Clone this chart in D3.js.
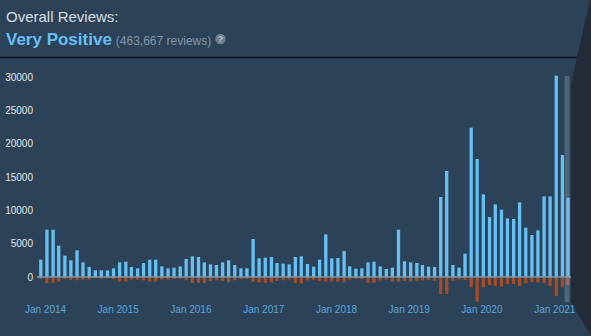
<!DOCTYPE html>
<html>
<head>
<meta charset="utf-8">
<script src="https://cdn.jsdelivr.net/npm/d3@7"></script>
<style>
  html, body { margin: 0; padding: 0; background: #2b4258; }
  svg { display: block; font-family: Arial, "Liberation Sans", sans-serif; }
</style>
</head>
<body>
<svg id="chart" width="591" height="336"></svg>
<script>
const months = [
  "2013-12",
  "2014-01","2014-02","2014-03","2014-04","2014-05","2014-06","2014-07","2014-08","2014-09","2014-10","2014-11","2014-12",
  "2015-01","2015-02","2015-03","2015-04","2015-05","2015-06","2015-07","2015-08","2015-09","2015-10","2015-11","2015-12",
  "2016-01","2016-02","2016-03","2016-04","2016-05","2016-06","2016-07","2016-08","2016-09","2016-10","2016-11","2016-12",
  "2017-01","2017-02","2017-03","2017-04","2017-05","2017-06","2017-07","2017-08","2017-09","2017-10","2017-11","2017-12",
  "2018-01","2018-02","2018-03","2018-04","2018-05","2018-06","2018-07","2018-08","2018-09","2018-10","2018-11","2018-12",
  "2019-01","2019-02","2019-03","2019-04","2019-05","2019-06","2019-07","2019-08","2019-09","2019-10","2019-11","2019-12",
  "2020-01","2020-02","2020-03","2020-04","2020-05","2020-06","2020-07","2020-08","2020-09","2020-10","2020-11","2020-12",
  "2021-01","2021-02","2021-03"
];
const positive = [
  2600,
  7100,7100,4700,3200,2500,4000,2200,1500,1000,1000,1000,1300,
  2200,2300,1500,1300,2100,2600,2600,1600,1300,1400,1600,2700,
  3100,3000,2200,1900,1800,2200,2500,1800,1300,1300,5700,2800,
  2900,3000,2100,2000,1900,3000,3100,1950,1550,2600,6400,2800,
  2850,3900,1600,1250,1300,2200,2300,1600,1200,1400,7100,2350,
  2200,2100,1800,1550,1500,12000,15900,1800,1400,3500,22400,17700,
  12400,9000,10900,10100,8800,8700,11200,7400,6300,7000,12100,12100,
  30200,18300,11900
];
const negative = [
  300,
  900,900,700,300,400,500,400,400,200,250,200,300,
  700,700,400,400,500,700,700,400,400,300,300,500,
  900,900,900,600,500,600,800,500,300,300,700,800,
  900,800,600,500,400,900,1000,500,400,600,700,700,
  700,800,400,300,300,900,900,500,400,700,700,600,
  700,600,550,450,550,2550,2550,550,350,450,1550,3700,
  1550,1200,1350,1450,1050,1050,1350,950,750,850,950,1350,
  2850,1550,1200
];
const yTicks = [0, 5000, 10000, 15000, 20000, 25000, 30000];
const xTickYears = [2014, 2015, 2016, 2017, 2018, 2019, 2020, 2021];

const parse = d3.timeParse("%Y-%m");
const data = months.map((m, i) => ({ date: parse(m), pos: positive[i], neg: negative[i] }));

const svg = d3.select("#chart");
const W = 591, H = 336;

svg.append("rect").attr("width", W).attr("height", H).attr("fill", "#2b4258");

// header
svg.append("text").attr("x", 6).attr("y", 21.5)
  .attr("font-size", 15).attr("fill", "#d6dde3").text("Overall Reviews:");
const sub = svg.append("text").attr("x", 6).attr("y", 44.5);
sub.append("tspan").attr("font-size", 17).attr("font-weight", "bold")
  .attr("fill", "#66c0f4").text("Very Positive");
sub.append("tspan").attr("font-size", 12).attr("fill", "#8197a8").attr("dx", 4)
  .text("(463,667 reviews)");
svg.append("circle").attr("cx", 220.5).attr("cy", 39).attr("r", 5.2).attr("fill", "#6e8191");
svg.append("text").attr("x", 220.5).attr("y", 42.3).attr("text-anchor", "middle")
  .attr("font-size", 9).attr("font-weight", "bold").attr("fill", "#b9c4cc").text("?");

svg.append("line").attr("x1", 0).attr("x2", 580).attr("y1", 57.5).attr("y2", 57.5)
  .attr("stroke", "#0c1218").attr("stroke-width", 1.3);

const x = d3.scaleTime()
  .domain([new Date(2014, 0, 1), new Date(2021, 0, 1)])
  .range([45, 554.3]);
const y = d3.scaleLinear().domain([0, 30000]).range([277, 77]);

const barW = 3.3, off = 0.3;

svg.append("g").selectAll("rect").data(data).join("rect")
  .attr("x", d => x(d.date) + off)
  .attr("width", barW)
  .attr("y", d => y(d.pos))
  .attr("height", d => y(0) - y(d.pos))
  .attr("fill", "#66c0f4");

svg.append("g").selectAll("rect").data(data).join("rect")
  .attr("x", d => x(d.date) + off)
  .attr("width", barW)
  .attr("y", y(0))
  .attr("height", d => y(0) - y(d.neg))
  .attr("fill", "#a34c25");

svg.append("line").attr("x1", 37).attr("x2", 572)
  .attr("y1", y(0)).attr("y2", y(0))
  .attr("stroke", "#7f93a4").attr("stroke-width", 1.6);

const yAxis = svg.append("g").attr("transform", "translate(33,0)")
  .call(d3.axisLeft(y).tickValues(yTicks).tickSize(0).tickPadding(0).tickFormat(d3.format("d")));
yAxis.select(".domain").remove();
yAxis.selectAll("text").attr("font-size", 10).attr("fill", "#e6e9ec")
  .attr("font-family", "Arial, 'Liberation Sans', sans-serif");

const lastDate = data[data.length - 1].date;
svg.append("rect")
  .attr("x", x(lastDate) - 1.5).attr("width", 5)
  .attr("y", 76).attr("height", 226)
  .attr("fill", "#9fb3c6").attr("opacity", 0.3);

svg.append("polygon")
  .attr("points", "590,0 571,84 571,302 591,336 591,0")
  .attr("fill", "#222b37");

const xAxis = svg.append("g").attr("transform", "translate(0,306)")
  .call(d3.axisBottom(x).tickValues(xTickYears.map(yr => new Date(yr, 0, 1)))
    .tickSize(0).tickPadding(0).tickFormat(d3.timeFormat("Jan %Y")));
xAxis.select(".domain").remove();
xAxis.selectAll("text").attr("font-size", 10).attr("fill", "#5aa7dc")
  .attr("font-family", "Arial, 'Liberation Sans', sans-serif");
</script>
</body>
</html>
